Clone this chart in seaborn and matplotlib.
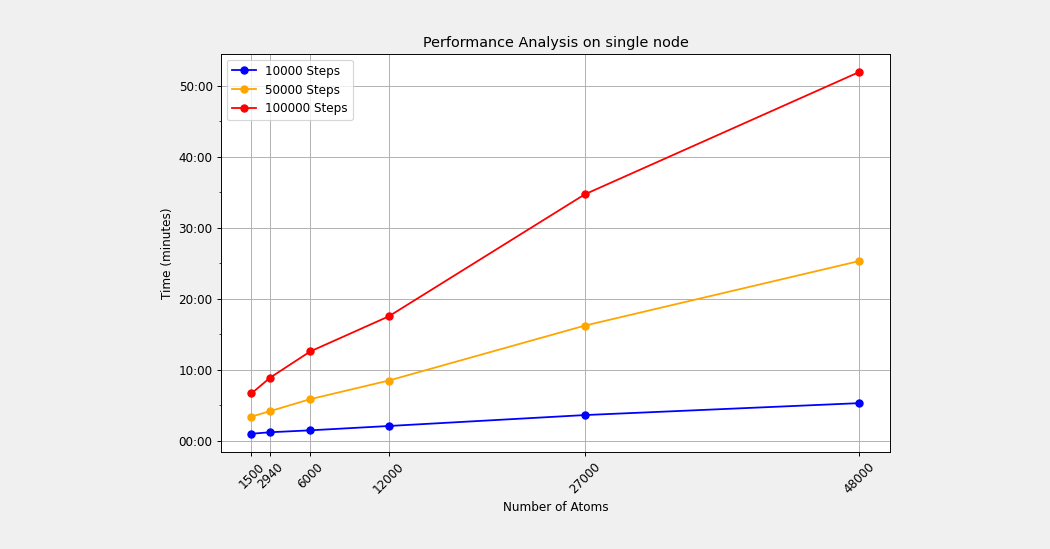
import numpy as np
import pandas as pd
import matplotlib
matplotlib.use('Agg')
import matplotlib.pyplot as plt
from matplotlib.ticker import FuncFormatter, MultipleLocator
import seaborn as sns


ATOMS = [1500, 2940, 6000, 12000, 27000, 48000]
STEPS_10K = [0.97, 1.18, 1.45, 2.06, 3.6, 5.28]      # minutes
STEPS_50K = [3.38, 4.16, 5.84, 8.46, 16.2, 25.3]
STEPS_100K = [6.64, 8.88, 12.56, 17.5, 34.69, 51.93]
SERIES = ['10000 Steps', '50000 Steps', '100000 Steps']
COLORS = ['blue', 'orange', 'red']

DPI = 86


def mmss(val, pos):
	total = int(round(val * 60))
	return '%02d:%02d' % (total // 60, total % 60)


def plot_performance():
	fig = plt.figure(figsize = (1050 / DPI, 549 / DPI), dpi = DPI, facecolor = '#f0f0f0')
	ax = fig.add_axes([0.2105, 0.177, 0.637, 0.725])

	for name, vals, color in zip(SERIES, [STEPS_10K, STEPS_50K, STEPS_100K], COLORS):
		df = pd.DataFrame({'atoms': ATOMS, 'time': vals})
		sns.lineplot(data = df, x = 'atoms', y = 'time', marker = 'o', markersize = 6,
			markeredgewidth = 1, markeredgecolor = color, color = color, label = name, ax = ax)

	ax.set_xticks(ATOMS)
	ax.set_xticklabels([str(a) for a in ATOMS], rotation = 45)
	ax.yaxis.set_major_locator(MultipleLocator(10))
	ax.yaxis.set_minor_locator(MultipleLocator(5))
	ax.yaxis.set_major_formatter(FuncFormatter(mmss))
	ax.grid(True, color = '#b0b0b0', linewidth = 0.8)
	ax.set_axisbelow(True)

	ax.set_title('Performance Analysis on single node')
	ax.set_xlabel('Number of Atoms')
	ax.set_ylabel('Time (minutes)')
	ax.legend(loc = 'upper left')

	fig.savefig('out.png', dpi = DPI, facecolor = fig.get_facecolor())
	plt.close()


if __name__ == '__main__':
	plot_performance()
